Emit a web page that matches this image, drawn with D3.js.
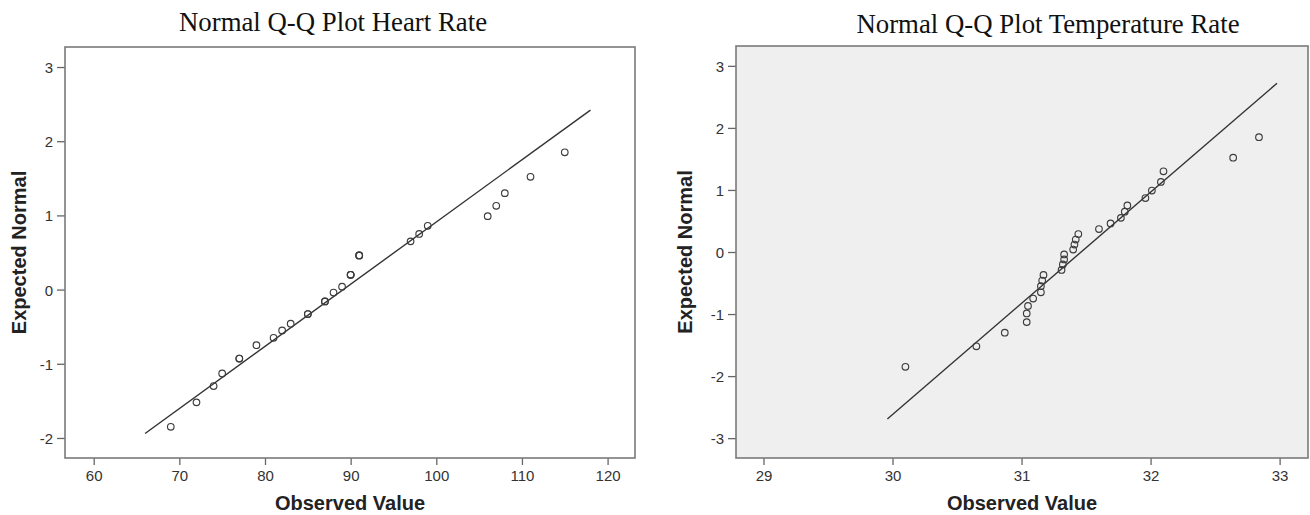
<!DOCTYPE html>
<html>
<head>
<meta charset="utf-8">
<script src="https://cdn.jsdelivr.net/npm/d3@7"></script>
<style>
  html, body { margin: 0; padding: 0; background: #fff; }
  svg { display: block; }
  .tick text { font-family: "Liberation Sans", Arial, sans-serif; font-size: 15px; fill: #333; }
  .tick line { stroke: #666; stroke-width: 1.3; }
  .title { font-family: "Liberation Serif", "Times New Roman", serif; font-size: 26.8px; fill: #111; }
  .axis-label { font-family: "Liberation Sans", Arial, sans-serif; font-size: 20px; font-weight: bold; fill: #222; }
</style>
</head>
<body>
<svg id="chart" width="1310" height="515"></svg>
<script>
// Heart rate: observed values and their expected normal scores (tied values repeat)
const heartObserved = [69, 72, 74, 75, 77, 77, 79, 81, 82, 83, 85, 85, 87, 87, 88, 89,
                       90, 90, 90, 91, 91, 91, 97, 98, 99, 106, 107, 108, 111, 115];
const heartExpected = [-1.85, -1.52, -1.30, -1.13, -0.93, -0.93, -0.75, -0.65, -0.55, -0.46,
                       -0.33, -0.33, -0.16, -0.16, -0.04, 0.04, 0.20, 0.20, 0.20, 0.46, 0.46, 0.46,
                       0.65, 0.75, 0.86, 0.99, 1.13, 1.30, 1.52, 1.85];
const heartLineX = [66, 118];
const heartLineY = [-1.94, 2.42];
const heartXTicks = [60, 70, 80, 90, 100, 110, 120];
const heartYTicks = [-2, -1, 0, 1, 2, 3];

// Temperature: observed values and their expected normal scores
const tempObserved = [30.10, 30.65, 30.87, 31.04, 31.04, 31.05, 31.09, 31.15, 31.15, 31.16,
                      31.17, 31.31, 31.32, 31.33, 31.33, 31.40, 31.41, 31.42, 31.44, 31.60,
                      31.69, 31.77, 31.80, 31.82, 31.96, 32.01, 32.08, 32.10, 32.64, 32.84];
const tempExpected = [-1.85, -1.52, -1.30, -1.13, -0.99, -0.87, -0.75, -0.65, -0.55, -0.46,
                      -0.37, -0.29, -0.20, -0.12, -0.04, 0.04, 0.12, 0.20, 0.29, 0.37,
                      0.46, 0.55, 0.65, 0.75, 0.87, 0.99, 1.13, 1.30, 1.52, 1.85];
const tempLineX = [29.96, 32.98];
const tempLineY = [-2.69, 2.72];
const tempXTicks = [29, 30, 31, 32, 33];
const tempYTicks = [-3, -2, -1, 0, 1, 2, 3];

const svg = d3.select("#chart");
const plainInt = d => String(d);   // hyphen-minus, as printed on the axes

function drawPanel(cfg) {
  const { left, top, right, bottom } = cfg.box;
  const x = d3.scaleLinear().domain(cfg.xDomain).range([left, right]);
  const y = d3.scaleLinear().domain(cfg.yDomain).range([bottom, top]);
  const g = svg.append("g");

  // plot background
  g.append("rect")
    .attr("x", left).attr("y", top)
    .attr("width", right - left).attr("height", bottom - top)
    .attr("fill", cfg.background);

  // axes
  const xAxis = g.append("g")
    .attr("transform", `translate(0,${bottom})`)
    .call(d3.axisBottom(x).tickValues(cfg.xTicks).tickSize(7).tickPadding(5).tickFormat(plainInt));
  xAxis.select(".domain").remove();

  const yAxis = g.append("g")
    .attr("transform", `translate(${left},0)`)
    .call(d3.axisLeft(y).tickValues(cfg.yTicks).tickSize(8).tickPadding(4).tickFormat(plainInt));
  yAxis.select(".domain").remove();
  yAxis.selectAll(".tick text").attr("dy", "0.36em");

  // reference line
  g.append("line")
    .attr("x1", x(cfg.lineX[0])).attr("y1", y(cfg.lineY[0]))
    .attr("x2", x(cfg.lineX[1])).attr("y2", y(cfg.lineY[1]))
    .attr("stroke", "#333").attr("stroke-width", 1.4);

  // points
  g.append("g").selectAll("circle")
    .data(cfg.observed.map((v, i) => [v, cfg.expected[i]]))
    .join("circle")
    .attr("cx", d => x(d[0]))
    .attr("cy", d => y(d[1]))
    .attr("r", 3.3)
    .attr("fill", "none")
    .attr("stroke", "#3c3c3c")
    .attr("stroke-width", 1.15);

  // frame
  g.append("rect")
    .attr("x", left).attr("y", top)
    .attr("width", right - left).attr("height", bottom - top)
    .attr("fill", "none").attr("stroke", "#7a7a7a").attr("stroke-width", 1.6);

  // titles and labels
  svg.append("text").attr("class", "title")
    .attr("x", cfg.titlePos[0]).attr("y", cfg.titlePos[1])
    .attr("text-anchor", "middle").text(cfg.title);

  svg.append("text").attr("class", "axis-label")
    .attr("x", (left + right) / 2).attr("y", 510)
    .attr("text-anchor", "middle").text("Observed Value");

  svg.append("text").attr("class", "axis-label")
    .attr("transform", `translate(${cfg.yLabelX},${(top + bottom) / 2}) rotate(-90)`)
    .attr("text-anchor", "middle").text("Expected Normal");
}

drawPanel({
  box: { left: 65, top: 47, right: 635, bottom: 458 },
  xDomain: [56.65, 123.2],
  yDomain: [-2.27, 3.27],
  xTicks: heartXTicks, yTicks: heartYTicks,
  observed: heartObserved, expected: heartExpected,
  lineX: heartLineX, lineY: heartLineY,
  background: "#ffffff",
  title: "Normal Q-Q Plot Heart Rate",
  titlePos: [333, 31],
  yLabelX: 26
});

drawPanel({
  box: { left: 736, top: 46, right: 1308, bottom: 458 },
  xDomain: [28.787, 33.22],
  yDomain: [-3.32, 3.32],
  xTicks: tempXTicks, yTicks: tempYTicks,
  observed: tempObserved, expected: tempExpected,
  lineX: tempLineX, lineY: tempLineY,
  background: "#efefef",
  title: "Normal Q-Q Plot Temperature Rate",
  titlePos: [1048, 33],
  yLabelX: 692
});
</script>
</body>
</html>
